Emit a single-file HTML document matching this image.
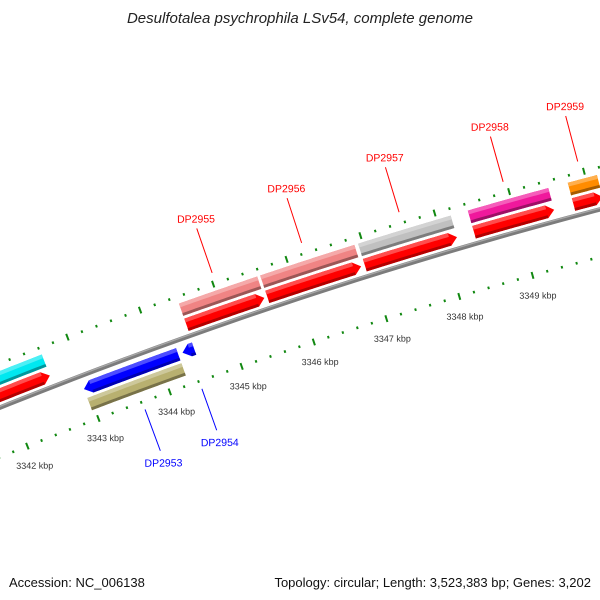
<!DOCTYPE html>
<html><head><meta charset="utf-8"><style>
html,body{margin:0;padding:0;background:#fff;width:600px;height:600px;overflow:hidden}
svg{display:block}
text{font-family:"Liberation Sans",sans-serif}
</style></head><body>
<svg id="map" width="600" height="600" viewBox="0 0 600 600">
<text x="300" y="23" text-anchor="middle" font-size="15" font-style="italic" fill="#222">Desulfotalea psychrophila LSv54, complete genome</text>
<text x="9" y="587" font-size="13" fill="#111">Accession: NC_006138</text>
<text x="591" y="587" font-size="13" fill="#111" text-anchor="end">Topology: circular; Length: 3,523,383 bp; Genes: 3,202</text>
<g id="layer" transform="rotate(-0.5 50 390)"></g>
</svg>
<script>
const geneNames = ["", "DP2953", "DP2954", "DP2955", "DP2956", "DP2957", "DP2958", "DP2959"];
const geneStarts = [3340.5, 3342.96, 3344.33, 3344.50, 3345.61, 3346.94, 3348.42, 3349.76];
const geneEnds = [3342.61, 3344.27, 3344.49, 3345.57, 3346.89, 3348.19, 3349.50, 3350.15];
const geneStrands = [1, -1, -1, 1, 1, 1, 1, 1];
const geneCogColors = ["#00e8f0", "#b8b070", null, "#f08484", "#f08484", "#c0c0c0", "#f0189c", "#ff8c00"];
const tickStart = 3340, tickEnd = 3352;
const labelTicks = [3342, 3343, 3344, 3345, 3346, 3347, 3348, 3349];

const NS = "http://www.w3.org/2000/svg";
const layer = document.getElementById("layer");
const CX = 1847, CY = 5134, R0 = 5075;
function theta(k){ return (-20.35 + (k - 3343) * 0.8683) * Math.PI / 180; }
function P(k, r){ const t = theta(k); return [CX + r * Math.sin(t), CY - r * Math.cos(t)]; }
function mk(tag, attrs){ const e = document.createElementNS(NS, tag); for (const a in attrs) e.setAttribute(a, attrs[a]); layer.appendChild(e); return e; }
function arcPts(k1, k2, r){ const pts = []; const n = 30; for (let i = 0; i <= n; i++) pts.push(P(k1 + (k2 - k1) * i / n, r)); return pts; }
function band(k1, k2, r1, r2){ return arcPts(k1, k2, r2).concat(arcPts(k2, k1, r1)); }
function ptsStr(p){ return p.map(q => q[0].toFixed(2) + "," + q[1].toFixed(2)).join(" "); }
function poly(p, fill, name){
  const e = mk("polygon", {points: ptsStr(p), fill: fill});
  
  
  return e;
}

const bb = mk("path", {d: "M" + ptsStr(arcPts(tickStart, tickEnd, R0)).replace(/ /g, " L"), fill: "none", stroke: "#7c7c7c", "stroke-width": 4.5});


const bb2 = mk("path", {d: "M" + ptsStr(arcPts(tickStart, tickEnd, R0 + 1.2)).replace(/ /g, " L"), fill: "none", stroke: "#a8a8a8", "stroke-width": 1.3});



function ruler(r, name){
  for (let i = Math.round(tickStart * 5); i <= tickEnd * 5; i++) {
    const k = i / 5; const major = (i % 5 === 0);
    const h = major ? 3.5 : 1.3;
    const a = P(k, r - h), b = P(k, r + h);
    const l = mk("line", {x1: a[0], y1: a[1], x2: b[0], y2: b[1], stroke: "#118811", "stroke-width": 2});
    
    
  }
}
ruler(R0 + 41, 'outer-ruler');
ruler(R0 - 46, 'inner-ruler');
labelTicks.forEach(k => {
  const p = P(k, R0 - 66);
  const t = mk("text", {x: p[0], y: p[1] + 4, "text-anchor": "middle", "font-size": 9, fill: "#333"});
  t.textContent = k + " kbp";
  
  
});

function shade(hex, f){
  const n = parseInt(hex.slice(1), 16); let r = n >> 16, g = (n >> 8) & 255, b = n & 255;
  if (f > 0) { r += (255 - r) * f; g += (255 - g) * f; b += (255 - b) * f; } else { r *= 1 + f; g *= 1 + f; b *= 1 + f; }
  return "rgb(" + Math.round(r) + "," + Math.round(g) + "," + Math.round(b) + ")";
}
function box3d(k1, k2, r1, r2, col, name){
  poly(band(k1, k2, r1, r2), col, name);
  const h = r2 - r1;
  const hi = mk("polygon", {points: ptsStr(band(k1, k2, r2 - h * 0.3, r2)), fill: shade(col, 0.3)});
  
  
  const lo = mk("polygon", {points: ptsStr(band(k1, k2, r1, r1 + h * 0.22)), fill: shade(col, -0.35)});
  
  
}
function arrow(k1, k2, r1, r2, strand, col, name){
  const head = Math.min(0.1, (k2 - k1));
  const mid = (r1 + r2) / 2;
  let pts;
  if (strand > 0) pts = band(k1, k2 - head, r1, r2).slice(0, 31).concat([P(k2, mid)], arcPts(k2 - head, k1, r1));
  else pts = [P(k1, mid)].concat(arcPts(k1 + head, k2, r2), arcPts(k2, k1 + head, r1));
  poly(pts, col, name);
  const h = r2 - r1;
  const bk1 = strand > 0 ? k1 : k1 + head, bk2 = strand > 0 ? k2 - head : k2;
  if (bk2 > bk1 + 0.01) {
    const hi = mk("polygon", {points: ptsStr(band(bk1, bk2, r2 - h * 0.3, r2)), fill: shade(col, 0.3)});
    
    
    const lo = mk("polygon", {points: ptsStr(band(bk1, bk2, r1, r1 + h * 0.22)), fill: shade(col, -0.3)});
    
    
  }
}

geneNames.forEach((nm, i) => {
  const s = geneStarts[i], e = geneEnds[i], st = geneStrands[i], c = geneCogColors[i];
  const id = nm ? nm.toLowerCase() : "gene-" + i;
  if (st > 0) {
    arrow(s, e, R0 + 5, R0 + 18, 1, "#ff0000", id + "-arrow");
    if (c) box3d(s, e, R0 + 21, R0 + 34, c, id + "-cog-box");
  } else {
    arrow(s, e, R0 - 20, R0 - 7, -1, "#0000ff", id + "-arrow");
    if (c) box3d(s, e, R0 - 36, R0 - 23, c, id + "-cog-box");
  }
  if (nm) {
    const m = (s + e) / 2;
    const col = st > 0 ? "#ff0000" : "#0000ff";
    const a = st > 0 ? P(m, R0 + 52) : P(m, R0 - 54);
    const b = st > 0 ? P(m, R0 + 99) : P(m, R0 - 98);
    const ln = mk("line", {x1: a[0], y1: a[1], x2: b[0], y2: b[1], stroke: col, "stroke-width": 1});
    
    
    const tp = st > 0 ? P(m, R0 + 101) : P(m, R0 - 101);
    const t = mk("text", {x: tp[0] + (st > 0 ? 0 : 2), y: st > 0 ? tp[1] - 4 : tp[1] + 13, "text-anchor": "middle", "font-size": 10.5, fill: col});
    t.textContent = nm;
    
    
  }
});
</script>
</body></html>
